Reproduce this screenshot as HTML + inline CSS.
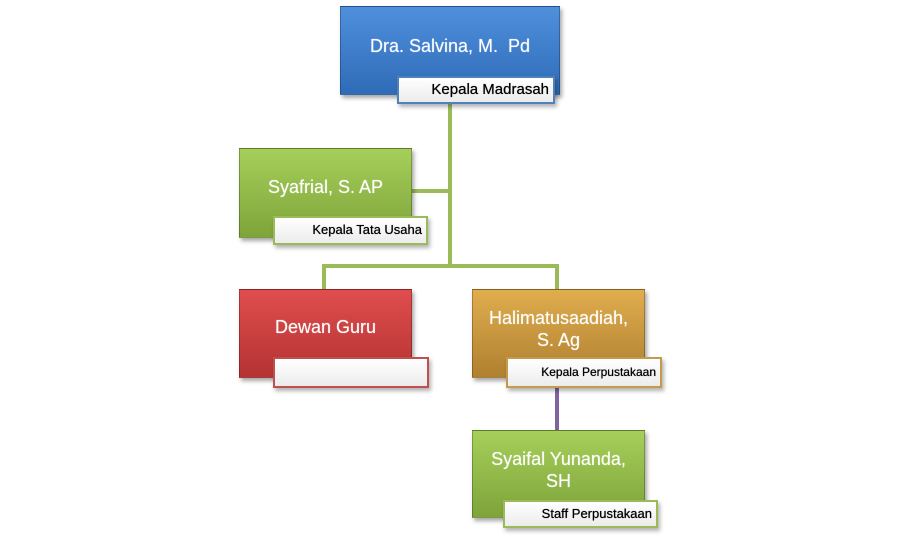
<!DOCTYPE html>
<html><head><style>
body{margin:0;width:900px;height:543px;background:#fff;position:relative;overflow:hidden;font-family:"Liberation Sans",sans-serif}
.b{position:absolute;box-sizing:border-box;color:#fff;font-size:18px;text-align:center;display:flex;align-items:flex-start;justify-content:center;line-height:22px;box-shadow:2px 3px 4px rgba(0,0,0,.35);border:1px solid rgba(0,0,0,.25);text-shadow:0 0 1px rgba(255,255,255,.6)}
.l{position:absolute;box-sizing:border-box;background:linear-gradient(#fff,#ececec);border:2px solid;font-size:13px;color:#000;text-align:right;padding-right:4px;line-height:24px;box-shadow:2px 3px 4px rgba(0,0,0,.3);text-shadow:0 0 .6px #000}
.ln{position:absolute;background:#9bbb59}
</style></head><body>
<div class="ln" style="left:448px;top:100px;width:4px;height:168px"></div>
<div class="ln" style="left:410px;top:189px;width:40px;height:4px"></div>
<div class="ln" style="left:322px;top:264px;width:237px;height:4px"></div>
<div class="ln" style="left:322px;top:264px;width:4px;height:26px"></div>
<div class="ln" style="left:555px;top:264px;width:4px;height:26px"></div>
<div class="ln" style="left:555px;top:386px;width:4px;height:46px;background:#8064a2"></div>

<div class="b" style="left:340px;top:6px;width:220px;height:89px;background:linear-gradient(#4f8fdc,#2f6cb8);padding-top:28px">Dra. Salvina, M.&nbsp; Pd</div>
<div class="l" style="left:397px;top:76px;width:158px;height:28px;border-color:#4f81bd;font-size:15px">Kepala Madrasah</div>

<div class="b" style="left:239px;top:148px;width:173px;height:90px;background:linear-gradient(#a6cf5a,#7ea43a);padding-top:27px">Syafrial, S. AP</div>
<div class="l" style="left:273px;top:216px;width:155px;height:29px;border-color:#9bbb59">Kepala Tata Usaha</div>

<div class="b" style="left:239px;top:289px;width:173px;height:89px;background:linear-gradient(#e04d4d,#b53333);padding-top:26px">Dewan Guru</div>
<div class="l" style="left:273px;top:357px;width:156px;height:31px;border-color:#c0504d"></div>

<div class="b" style="left:472px;top:289px;width:173px;height:89px;background:linear-gradient(#e0ad4e,#b08030);padding-top:17px">Halimatusaadiah,<br>S. Ag</div>
<div class="l" style="left:506px;top:357px;width:156px;height:31px;border-color:#c49a4c;font-size:12px;line-height:27px">Kepala Perpustakaan</div>

<div class="b" style="left:472px;top:430px;width:173px;height:88px;background:linear-gradient(#a6cf5a,#7ea43a);padding-top:17px">Syaifal Yunanda,<br>SH</div>
<div class="l" style="left:503px;top:500px;width:155px;height:28px;border-color:#9bbb59">Staff Perpustakaan</div>
</body></html>
